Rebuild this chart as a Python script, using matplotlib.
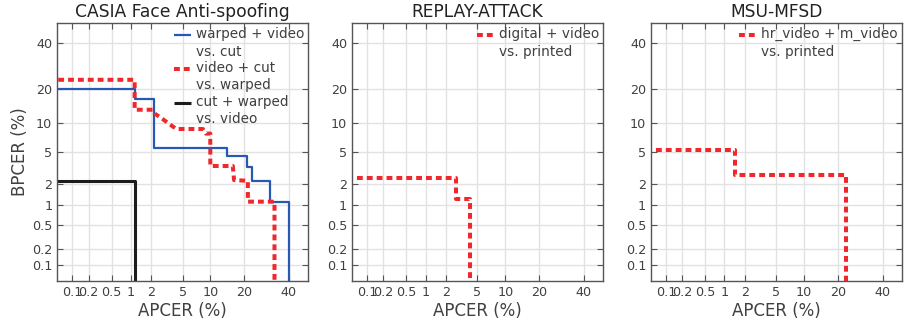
import math
import matplotlib
matplotlib.use('Agg')
import matplotlib.pyplot as plt
from matplotlib.legend_handler import HandlerLine2D
import numpy as np

# DET curves, APCER / BPCER in percent
casia_blue_apcer = [0.001, 1.15, 1.15, 2.2, 2.2, 14.5, 14.5, 21, 21, 23, 23, 31, 31, 40, 40]
casia_blue_bpcer = [20, 20, 16.6, 16.6, 5.5, 5.5, 4.45, 4.45, 3.3, 3.3, 2.2, 2.2, 1.13, 1.13, 0.001]
casia_red_apcer = [0.001, 1.15, 1.15, 2.1, 2.2, 2.6, 4.2, 8.4, 9.0, 10, 10, 16.2, 16.6, 21.5, 21.5, 33, 33]
casia_red_bpcer = [23.4, 23.4, 13.4, 13.4, 12.4, 11.5, 8.8, 8.8, 7.9, 7.9, 3.4, 3.4, 2.25, 2.2, 1.13, 1.13, 0.001]
casia_black_apcer = [0.001, 1.15, 1.15]
casia_black_bpcer = [2.2, 2.2, 0.001]
replay_apcer = [0.001, 2.67, 2.67, 4.06, 4.06]
replay_bpcer = [2.4, 2.4, 1.24, 1.24, 0.001]
msu_apcer = [0.001, 1.42, 1.42, 23, 23]
msu_bpcer = [5.2, 5.2, 2.6, 2.6, 0.001]

ticks = [0.1, 0.2, 0.5, 1, 2, 5, 10, 20, 40]
tick_labels = ['0.1', '0.2', '0.5', '1', '2', '5', '10', '20', '40']
titles = ['CASIA Face Anti-spoofing', 'REPLAY-ATTACK', 'MSU-MFSD']

BLUE = '#2559b3'
RED = '#f0282d'
BLACK = '#1c1c1c'
TXT = '#404040'


def ppf(p):
    # Acklam's rational approximation of the normal quantile
    a = [-3.969683028665376e+01, 2.209460984245205e+02, -2.759285104469687e+02,
         1.383577518672690e+02, -3.066479806614716e+01, 2.506628277459239e+00]
    b = [-5.447609879822406e+01, 1.615858368580409e+02, -1.556989798598866e+02,
         6.680131188771972e+01, -1.328068155288572e+01]
    c = [-7.784894002430293e-03, -3.223964580411365e-01, -2.400758277161838e+00,
         -2.549671010227902e+00, 4.374664141464968e+00, 2.938163982698783e+00]
    d = [7.784695709041462e-03, 3.224671290700398e-01, 2.445134137142996e+00,
         3.754408661907416e+00]
    p = np.clip(np.asarray(p, dtype=float), 1e-9, 1 - 1e-9)
    plow = 0.02425
    q = np.sqrt(-2 * np.log(np.where(p < 0.5, p, 1 - p)))
    tail = (((((c[0]*q+c[1])*q+c[2])*q+c[3])*q+c[4])*q+c[5]) / \
           ((((d[0]*q+d[1])*q+d[2])*q+d[3])*q+1)
    tail = np.where(p < 0.5, tail, -tail)
    r0 = p - 0.5
    r = r0 * r0
    mid = (((((a[0]*r+a[1])*r+a[2])*r+a[3])*r+a[4])*r+a[5])*r0 / \
          (((((b[0]*r+b[1])*r+b[2])*r+b[3])*r+b[4])*r+1)
    return np.where((p < plow) | (p > 1 - plow), tail, mid)


_erf = np.vectorize(math.erf)


def fwd(x):
    return ppf(np.asarray(x, dtype=float) / 100.0)


def inv(z):
    return 100.0 * 0.5 * (1 + _erf(np.asarray(z, dtype=float) / math.sqrt(2)))


class FirstLineHandler(HandlerLine2D):
    # put the legend line next to the first text line, not the middle
    def create_artists(self, legend, orig_handle, xdescent, ydescent,
                       width, height, fontsize, trans):
        arts = super().create_artists(legend, orig_handle, xdescent, ydescent,
                                      width, height, fontsize, trans)
        for a in arts:
            a.set_ydata(np.asarray(a.get_ydata()) + 0.6 * fontsize)
        return arts


plt.rcParams['font.family'] = 'DejaVu Sans'
plt.rcParams['text.color'] = TXT
plt.rcParams['axes.labelcolor'] = TXT
plt.rcParams['xtick.color'] = TXT
plt.rcParams['ytick.color'] = TXT

fig = plt.figure(figsize=(9.06, 3.27), dpi=100)
lefts = [0.063, 0.3885, 0.7185]
axes = [fig.add_axes([l, 0.141, 0.277, 0.789]) for l in lefts]

DOT = (0, (1.45, 1.0))
curves = [
    [(casia_blue_apcer, casia_blue_bpcer, BLUE, '-', 1.6, 'warped + video\nvs. cut'),
     (casia_red_apcer, casia_red_bpcer, RED, DOT, 2.9, 'video + cut\nvs. warped'),
     (casia_black_apcer, casia_black_bpcer, BLACK, '-', 2.2, 'cut + warped\nvs. video')],
    [(replay_apcer, replay_bpcer, RED, DOT, 2.9, 'digital + video\nvs. printed')],
    [(msu_apcer, msu_bpcer, RED, DOT, 2.9, 'hr_video + m_video\nvs. printed')],
]

for i, ax in enumerate(axes):
    ax.set_xscale('function', functions=(fwd, inv))
    ax.set_yscale('function', functions=(fwd, inv))
    for xs, ys, col, ls, lw, lab in curves[i]:
        ax.plot(xs, ys, color=col, linestyle=ls, linewidth=lw, label=lab,
                dash_capstyle='butt', solid_capstyle='butt')
    ax.set_xlim(0.05, 50)
    ax.set_ylim(0.05, 50)
    ax.set_xticks(ticks)
    ax.set_xticklabels(tick_labels)
    ax.set_yticks(ticks)
    ax.set_yticklabels(tick_labels)
    ax.minorticks_off()
    ax.tick_params(direction='in', top=True, right=True, labelsize=9.2,
                   length=4, width=0.8, color='#555555')
    ax.grid(True, color='#e2e2e2', linewidth=1)
    ax.set_axisbelow(True)
    for s in ax.spines.values():
        s.set_color('#555555')
        s.set_linewidth(1)
    ax.set_title(titles[i], fontsize=12.3, pad=4, color='#222222')
    ax.set_xlabel('APCER (%)', fontsize=12, labelpad=2)
    if i == 0:
        ax.set_ylabel('BPCER (%)', fontsize=12, labelpad=2)
    leg = ax.legend(loc='upper right', frameon=False, fontsize=9.8,
                    handlelength=1.3, borderaxespad=0.1, labelspacing=0.15,
                    handletextpad=0.3, borderpad=0.2,
                    handler_map={plt.Line2D: FirstLineHandler()})
    for t in leg.get_texts():
        t.set_linespacing(1.34)

fig.savefig('out.png', dpi=100)
